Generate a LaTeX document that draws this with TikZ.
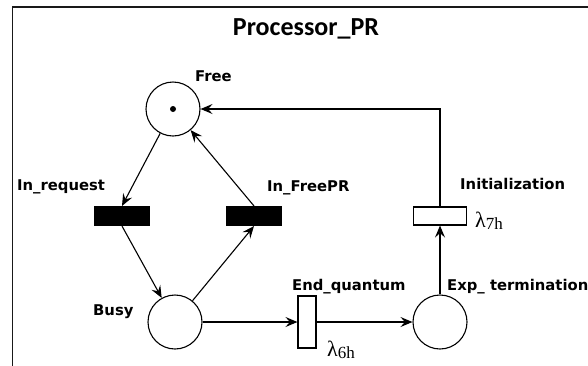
\documentclass[tikz,border=0pt]{standalone}
\usepackage{fontspec}
\setmainfont{DejaVu Sans}
\newfontfamily\titlefont{Carlito}
\newfontfamily\lamfont{Liberation Serif}
\usetikzlibrary{arrows.meta, positioning}
\tikzset{
    place/.style={draw=black, circle, minimum size=54pt, inner sep=0pt, line width=1.1pt},
    trans/.style={draw=black, rectangle, inner sep=0pt, line width=1.1pt},
    lbl/.style={anchor=base west, inner sep=0pt, font=\bfseries\fontsize{14.8}{16}\selectfont},
    lam/.style={anchor=base west, inner sep=0pt, font=\lamfont\fontsize{22}{24}\selectfont},
    arc/.style={-{Stealth[length=12pt, width=10pt, inset=4.5pt]}, line width=1.1pt}
}
\newcommand{\rate}[1]{λ\raisebox{-2pt}{\fontsize{17}{18}\selectfont #1}}

\begin{document}
\begin{tikzpicture}[x=1pt, y=-1pt]
    \useasboundingbox (0,0) rectangle (588,365);

    % Frame
    \draw[line width=1.6pt, black!90] (590,7) -- (12.5,7) -- (12.5,367);
    \node[inner sep=0pt, font=\titlefont\bfseries\fontsize{26}{28}\selectfont] (title) at (306,29) {Processor\_PR};

    % Places
    \node[place] (free) at (173,109) {};
    \fill (free.center) circle (3pt);
    \node[place] (busy) at (175,322) {};
    \node[place] (exp) at (440,322) {};

    % Transitions
    \node[trans, fill=black, minimum width=54pt, minimum height=19pt] (inreq) at (122,216) {};
    \node[trans, fill=black, minimum width=54pt, minimum height=19pt] (infree) at (254,216) {};
    \node[trans, fill=white, minimum width=18pt, minimum height=52pt] (endq) at (307,322) {};
    \node[trans, fill=white, minimum width=53pt, minimum height=18pt] (init) at (440,216) {};

    % Labels
    \node[lbl] (lfree) at (195,81) {Free};
    \node[lbl] (linreq) at (17,190) {In\_request};
    \node[lbl] (linfree) at (267,191) {In\_FreePR};
    \node[lbl] (linit) at (460,189) {Initialization};
    \node[lbl] (lbusy) at (93,315) {Busy};
    \node[lbl] (lendq) at (292,290) {End\_quantum};
    \node[lbl] (lexp) at (447,290) {Exp\_ termination};
    \node[lam] (lam6) at (327,356) {\rate{6h}};
    \node[lam] (lam7) at (475,227) {\rate{7h}};

    % Arcs
    \draw[arc] (free) -- (inreq.north);
    \draw[arc] (inreq.south) -- (busy);
    \draw[arc] (busy) -- (infree.south);
    \draw[arc] (infree.north) -- (free);
    \draw[arc] (busy) -- (endq);
    \draw[arc] (endq) -- (exp);
    \draw[arc] (exp) -- (init);
    \draw[arc] (init.north) |- (free.east);
\end{tikzpicture}
\end{document}
